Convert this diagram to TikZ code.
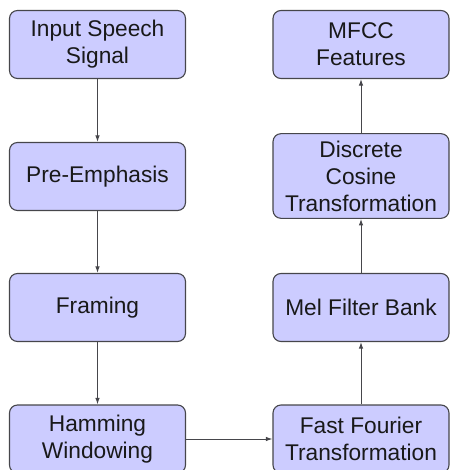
\documentclass[tikz,border=0pt]{standalone}
\usepackage{fontspec}
\setmainfont{Liberation Sans}
\usetikzlibrary{arrows.meta}
\definecolor{boxfill}{RGB}{204,204,255}
\definecolor{edgegray}{RGB}{70,70,75}
\begin{document}
\begin{tikzpicture}[x=1pt,y=-1pt,
  stage/.style={draw=edgegray, line width=1.1pt, fill=boxfill,
    rounded corners=8pt, minimum width=176pt, minimum height=68pt,
    inner sep=7pt, align=center, text=black!90,
    font=\fontsize{22.7}{27}\selectfont},
  flow/.style={draw=edgegray, line width=1pt,
    -{Latex[length=6.5pt,width=4.5pt]}}]
\useasboundingbox (0,0) rectangle (450,470);
% left column: signal preparation
\node[stage] (in)   at (97.5,44.5)  {Input Speech\\Signal};
\node[stage] (pre)  at (97.5,176.5) {Pre-Emphasis};
\node[stage] (frm)  at (97.5,307.5) {Framing};
\node[stage] (ham)  at (97.5,439)   {Hamming\\Windowing};
% right column: spectral processing
\node[stage] (fft)  at (361,439)    {Fast Fourier\\Transformation};
\node[stage] (mel)  at (361,307.5)  {Mel Filter Bank};
\node[stage] (dct)  at (361,176)    {Discrete\\Cosine\\Transformation};
\node[stage] (mfcc) at (361,44.5)   {MFCC\\Features};
% processing chain
\draw[flow] (in) -- (pre);
\draw[flow] (pre) -- (frm);
\draw[flow] (frm) -- (ham);
\draw[flow] (ham) -- (fft);
\draw[flow] (fft) -- (mel);
\draw[flow] (mel) -- (dct);
\draw[flow] (dct) -- (mfcc);
\end{tikzpicture}
\end{document}
